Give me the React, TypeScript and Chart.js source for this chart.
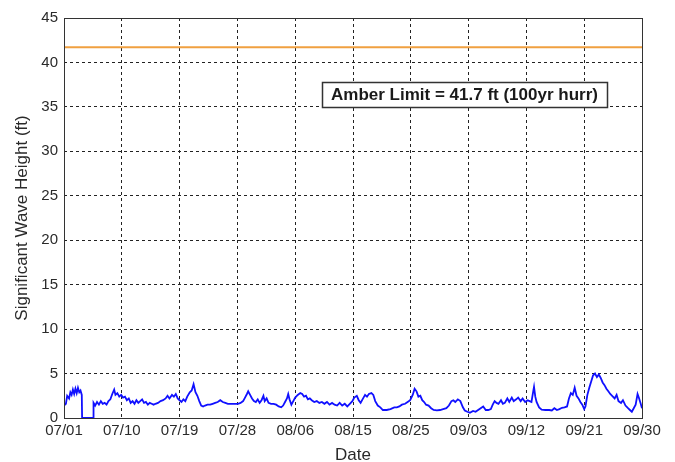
import React, { useEffect, useRef } from 'react';
import { Chart, registerables } from 'chart.js';

Chart.register(...registerables);

// x tick labels (10 intervals over 91 days, 07/01 .. 09/30)
const xLabels = ['07/01', '07/10', '07/19', '07/28', '08/06', '08/15', '08/25', '09/03', '09/12', '09/21', '09/30'];
const totalDays = 91;
const amberLimit = 41.7;
const amberText = 'Amber Limit = 41.7 ft (100yr hurr)';

// day offset from 07/01
const days = [
  0.0, 0.3, 0.5, 0.8, 1.0, 1.2, 1.4, 1.6, 1.8, 2.0, 2.2, 2.4, 2.6, 2.8, 2.85, 4.6, 4.65, 4.9, 5.2, 5.5,
  5.8, 6.1, 6.4, 6.7, 7.0, 7.3, 7.6, 7.9, 8.1, 8.4, 8.7, 9.0, 9.3, 9.6, 9.9, 10.2, 10.5, 10.8, 11.1, 11.4,
  11.7, 12.0, 12.3, 12.6, 12.9, 13.2, 13.5, 13.8, 14.1, 14.4, 14.8, 15.2, 15.6, 16.0, 16.3, 16.6, 17.0, 17.3, 17.6, 17.9,
  18.2, 18.5, 18.8, 19.1, 19.4, 19.8, 20.1, 20.4, 20.7, 21.0, 21.3, 21.6, 21.9, 22.2, 22.6, 23.0, 23.4, 23.8, 24.2, 24.6,
  25.0, 25.4, 25.8, 26.2, 26.6, 27.0, 27.4, 27.8, 28.2, 28.5, 28.8, 29.0, 29.3, 29.6, 29.9, 30.2, 30.5, 30.8, 31.1, 31.4,
  31.6, 31.9, 32.2, 32.6, 33.0, 33.4, 33.8, 34.2, 34.5, 34.8, 35.1, 35.3, 35.5, 35.8, 36.1, 36.4, 36.8, 37.2, 37.5, 37.8,
  38.1, 38.4, 38.7, 39.0, 39.4, 39.8, 40.2, 40.6, 41.0, 41.4, 41.8, 42.2, 42.6, 43.0, 43.4, 43.8, 44.2, 44.6, 45.0, 45.4,
  45.7, 46.1, 46.4, 46.7, 47.0, 47.4, 47.7, 48.0, 48.4, 48.7, 49.0, 49.4, 49.8, 50.2, 50.8, 51.4, 52.0, 52.4, 52.8, 53.2,
  53.7, 54.1, 54.5, 54.9, 55.2, 55.5, 55.8, 56.1, 56.4, 56.7, 57.0, 57.4, 57.8, 58.2, 58.7, 59.2, 59.7, 60.2, 60.6, 61.0,
  61.3, 61.6, 62.0, 62.4, 62.8, 63.1, 63.5, 63.9, 64.4, 64.8, 65.2, 65.6, 66.0, 66.4, 66.8, 67.2, 67.5, 67.8, 68.1, 68.4,
  68.8, 69.1, 69.4, 69.8, 70.1, 70.5, 70.8, 71.2, 71.5, 71.9, 72.2, 72.6, 73.0, 73.3, 73.6, 73.9, 74.0, 74.2, 74.4, 74.8,
  75.2, 75.8, 76.4, 76.8, 77.2, 77.6, 78.0, 78.4, 78.8, 79.2, 79.5, 79.8, 80.1, 80.4, 80.7, 81.0, 81.3, 81.6, 81.9, 82.1,
  82.4, 82.7, 83.0, 83.3, 83.6, 83.9, 84.2, 84.5, 84.8, 85.1, 85.4, 85.7, 86.0, 86.3, 86.7, 87.0, 87.3, 87.7, 88.0, 88.4,
  88.8, 89.1, 89.4, 89.7, 90.0, 90.3, 90.5, 90.8, 91.0,
];

// significant wave height (ft)
const waveHeight = [
  1.4, 1.6, 2.5, 2.2, 2.9, 2.6, 3.2, 2.7, 3.3, 2.8, 3.4, 2.9, 3.1, 2.6, 0.0, 0.0, 1.7, 1.4, 1.8, 1.5,
  1.9, 1.6, 1.7, 1.5, 1.9, 2.1, 2.7, 3.2, 2.6, 2.8, 2.4, 2.6, 2.3, 2.4, 2.0, 2.2, 1.7, 1.9, 1.6, 2.0,
  1.7, 1.9, 2.1, 1.7, 1.8, 1.5, 1.7, 1.6, 1.5, 1.6, 1.7, 1.9, 2.0, 2.2, 2.5, 2.2, 2.6, 2.4, 2.7, 2.2,
  2.0, 1.8, 2.1, 1.9, 2.4, 2.9, 3.1, 3.8, 2.9, 2.5, 1.9, 1.4, 1.3, 1.4, 1.5, 1.5, 1.6, 1.7, 1.8, 2.0,
  1.8, 1.7, 1.6, 1.6, 1.6, 1.6, 1.6, 1.7, 1.9, 2.3, 2.7, 3.0, 2.6, 2.2, 1.9, 1.8, 2.1, 1.7, 2.0, 2.5,
  1.9, 2.2, 1.7, 1.6, 1.6, 1.5, 1.3, 1.2, 1.4, 1.8, 2.2, 2.7, 2.1, 1.5, 1.9, 2.3, 2.6, 2.8, 2.7, 2.4,
  2.5, 2.1, 2.2, 2.0, 1.8, 1.9, 1.7, 1.8, 1.6, 1.8, 1.5, 1.7, 1.5, 1.4, 1.7, 1.4, 1.6, 1.3, 1.6, 1.9,
  2.3, 2.5, 2.0, 1.7, 2.1, 2.6, 2.4, 2.7, 2.8, 2.6, 1.9, 1.4, 1.2, 0.9, 0.9, 1.0, 1.2, 1.2, 1.3, 1.5,
  1.6, 1.8, 2.0, 2.6, 3.3, 3.0, 2.4, 2.5, 2.0, 1.8, 1.5, 1.4, 1.1, 0.9, 0.85, 0.9, 1.0, 1.1, 1.4, 1.9,
  2.0, 1.8, 2.1, 1.9, 1.2, 0.85, 0.7, 0.6, 0.8, 0.7, 0.9, 1.1, 1.3, 0.9, 0.9, 1.0, 1.5, 1.9, 1.7, 1.6,
  2.0, 1.6, 1.7, 2.2, 1.8, 2.3, 1.9, 2.1, 2.3, 1.9, 2.2, 1.8, 2.0, 1.9, 1.8, 3.1, 3.5, 2.4, 1.8, 1.2,
  0.95, 0.9, 0.9, 0.85, 1.1, 0.9, 1.0, 1.15, 1.2, 1.3, 2.2, 2.8, 2.6, 3.4, 2.5, 2.2, 1.8, 1.5, 1.0, 1.3,
  2.6, 3.4, 4.1, 4.8, 5.0, 4.6, 4.9, 4.5, 4.0, 3.7, 3.3, 3.0, 2.7, 2.5, 2.2, 2.6, 1.9, 1.7, 2.0, 1.4,
  1.1, 0.9, 0.7, 1.1, 1.5, 2.7, 2.3, 1.6, 1.1,
];

// annotation anchor in data space (box centre)
const boxDay = 63.05;
const boxHeight = 36.4;

const FONT = 'Arial, "Liberation Sans", sans-serif';
const TEXT_COLOR = '#2a2a2a';

export default function App() {
  const ref = useRef<HTMLCanvasElement | null>(null);

  useEffect(() => {
    document.body.style.margin = '0';
    const canvas = ref.current;
    if (!canvas) return;

    const framePlugin = {
      id: 'frameAndBox',
      afterDatasetsDraw(chart: any) {
        const { ctx, chartArea, scales } = chart;
        ctx.save();
        // frame
        ctx.strokeStyle = '#333';
        ctx.lineWidth = 1;
        ctx.setLineDash([]);
        ctx.strokeRect(
          Math.round(chartArea.left) + 0.5,
          Math.round(chartArea.top) + 0.5,
          Math.round(chartArea.right - chartArea.left),
          Math.round(chartArea.bottom - chartArea.top)
        );
        // annotation box
        const cx = scales.x.getPixelForValue(boxDay);
        const cy = scales.y.getPixelForValue(boxHeight);
        ctx.font = `bold 17px ${FONT}`;
        const tw = ctx.measureText(amberText).width;
        const w = Math.round(tw + 18);
        const h = 25;
        const x0 = Math.round(cx - w / 2) + 0.5;
        const y0 = Math.round(cy - h / 2) + 0.5;
        ctx.fillStyle = '#fff';
        ctx.fillRect(x0, y0, w, h);
        ctx.strokeStyle = '#333';
        ctx.lineWidth = 1.5;
        ctx.strokeRect(x0, y0, w, h);
        ctx.fillStyle = '#1a1a1a';
        ctx.textAlign = 'center';
        ctx.textBaseline = 'middle';
        ctx.fillText(amberText, cx, cy + 1);
        ctx.restore();
      },
    };

    const chart = new Chart(canvas, {
      type: 'line',
      data: {
        datasets: [
          {
            label: 'Hs',
            data: days.map((d, i) => ({ x: d, y: waveHeight[i] })),
            borderColor: '#1010ff',
            borderWidth: 1.8,
            pointRadius: 0,
            tension: 0,
            fill: false,
          },
          {
            label: 'Amber',
            data: [
              { x: 0, y: amberLimit },
              { x: totalDays, y: amberLimit },
            ],
            borderColor: '#f0a040',
            borderWidth: 2,
            pointRadius: 0,
            fill: false,
          },
        ],
      },
      options: {
        responsive: false,
        animation: false,
        devicePixelRatio: 1,
        layout: { padding: { left: 0, right: 33, top: 18, bottom: 0 } },
        plugins: {
          legend: { display: false },
          tooltip: { enabled: false },
        },
        scales: {
          x: {
            type: 'linear',
            min: 0,
            max: totalDays,
            afterBuildTicks: (scale: any) => {
              scale.ticks = xLabels.map((_, i) => ({ value: (i * totalDays) / (xLabels.length - 1) }));
            },
            afterFit: (scale: any) => {
              scale.height = 44;
            },
            ticks: {
              autoSkip: false,
              maxRotation: 0,
              padding: 4,
              color: TEXT_COLOR,
              font: { family: FONT, size: 15 },
              callback: (_v: any, i: number) => xLabels[i],
            },
            grid: {
              drawTicks: false,
              color: (c: any) =>
                c.index === 0 || c.index === xLabels.length - 1 ? 'rgba(0,0,0,0)' : '#222',
              lineWidth: 1,
            },
            border: { display: false, dash: [3, 3] },
            title: {
              display: true,
              text: 'Date',
              color: TEXT_COLOR,
              font: { family: FONT, size: 17 },
              padding: { top: 0, bottom: -4 },
            },
          },
          y: {
            min: 0,
            max: 45,
            afterFit: (scale: any) => {
              scale.width = 64;
            },
            ticks: {
              stepSize: 5,
              padding: 6,
              color: TEXT_COLOR,
              font: { family: FONT, size: 15 },
            },
            grid: {
              drawTicks: false,
              color: (c: any) =>
                c.tick && (c.tick.value === 0 || c.tick.value === 45) ? 'rgba(0,0,0,0)' : '#222',
              lineWidth: 1,
            },
            border: { display: false, dash: [3, 3] },
            title: {
              display: true,
              text: 'Significant Wave Height (ft)',
              color: TEXT_COLOR,
              font: { family: FONT, size: 17 },
              padding: { top: 12, bottom: 0 },
            },
          },
        },
      },
      plugins: [framePlugin],
    });

    return () => chart.destroy();
  }, []);

  return (
    <div style={{ position: 'absolute', left: 0, top: 0, width: 675, height: 462, background: '#fff' }}>
      <canvas ref={ref} width={675} height={462} style={{ width: 675, height: 462 }} />
    </div>
  );
}
